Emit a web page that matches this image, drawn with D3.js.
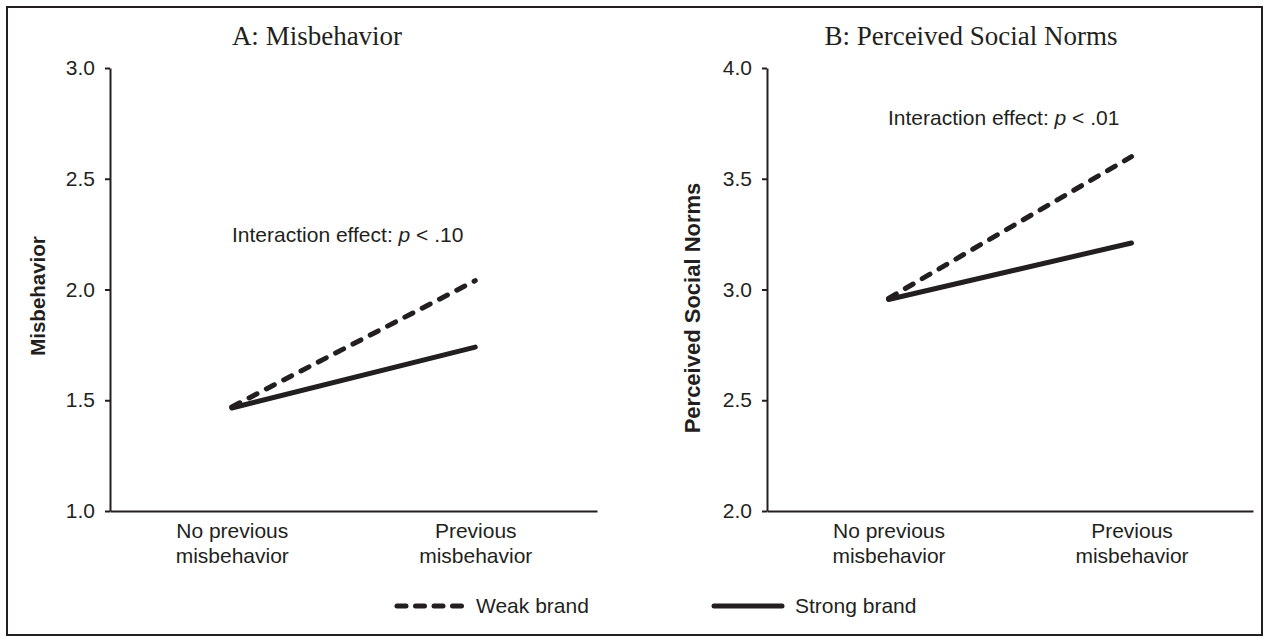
<!DOCTYPE html>
<html>
<head>
<meta charset="utf-8">
<script src="https://cdn.jsdelivr.net/npm/d3@7"></script>
<style>
  html, body { margin: 0; padding: 0; background: #fff; }
  svg { display: block; }
</style>
</head>
<body>
<svg id="chart" width="1268" height="637"></svg>
<script>
// ---- data ----
const categories = ["No previous misbehavior", "Previous misbehavior"];
const categoryLines = [["No previous", "misbehavior"], ["Previous", "misbehavior"]];
const seriesNames = ["Weak brand", "Strong brand"];

const panelATitle = "A: Misbehavior";
const panelAYLabel = "Misbehavior";
const panelANote = ".10";
const panelAWeak = [1.47, 2.04];
const panelAStrong = [1.465, 1.74];
const panelATicks = [1.0, 1.5, 2.0, 2.5, 3.0];

const panelBTitle = "B: Perceived Social Norms";
const panelBYLabel = "Perceived Social Norms";
const panelBNote = ".01";
const panelBWeak = [2.96, 3.60];
const panelBStrong = [2.955, 3.21];
const panelBTicks = [2.0, 2.5, 3.0, 3.5, 4.0];

// ---- drawing ----
const ink = "#231f20";
const sans = "Liberation Sans, Arial, sans-serif";
const serif = "Liberation Serif, Times New Roman, serif";
const svg = d3.select("#chart");

svg.append("rect")
  .attr("x", 7).attr("y", 7).attr("width", 1255).attr("height", 628)
  .attr("fill", "none").attr("stroke", ink).attr("stroke-width", 2);

function panel(cfg) {
  const x = d3.scalePoint().domain(categories).range([cfg.left, cfg.right]).padding(0.5);
  const y = d3.scaleLinear().domain([cfg.ticks[0], cfg.ticks[cfg.ticks.length - 1]]).range([511, 68]);
  const g = svg.append("g");

  // y axis
  const ya = g.append("g").attr("transform", `translate(${cfg.left},0)`)
    .call(d3.axisLeft(y).tickValues(cfg.ticks).tickFormat(d3.format(".1f")).tickSize(5).tickSizeOuter(0).tickPadding(10));
  ya.select(".domain").attr("stroke", ink).attr("stroke-width", 2);
  ya.selectAll(".tick line").attr("stroke", ink).attr("stroke-width", 2);
  ya.selectAll(".tick text").attr("font-family", sans).attr("font-size", 21).attr("fill", ink);

  // x axis
  const xa = g.append("g").attr("transform", `translate(0,511)`)
    .call(d3.axisBottom(x).tickSize(0).tickSizeOuter(0).tickFormat(""));
  xa.select(".domain").attr("stroke", ink).attr("stroke-width", 2);
  xa.selectAll(".tick").each(function(d, i) {
    const t = d3.select(this).select("text")
      .attr("font-family", sans).attr("font-size", 21).attr("fill", ink)
      .attr("text-anchor", "middle").attr("y", 0).attr("dy", null).text(null);
    categoryLines[i].forEach((s, k) => {
      t.append("tspan").attr("x", 0).attr("y", 27 + k * 25).text(s);
    });
  });

  // lines
  const line = d3.line().x((d, i) => x(categories[i])).y(d => y(d));
  g.append("path").datum(cfg.strong).attr("d", line)
    .attr("fill", "none").attr("stroke", ink).attr("stroke-width", 5).attr("stroke-linecap", "round");
  g.append("path").datum(cfg.weak).attr("d", line)
    .attr("fill", "none").attr("stroke", ink).attr("stroke-width", 5)
    .attr("stroke-linecap", "round").attr("stroke-dasharray", "9,10.5");

  // title
  g.append("text").attr("x", cfg.titleX).attr("y", 45).attr("text-anchor", "middle")
    .attr("font-family", serif).attr("font-size", 27).attr("fill", ink).text(cfg.title);

  // y label
  g.append("text").attr("transform", `translate(${cfg.ylabX},${cfg.ylabY}) rotate(-90)`)
    .attr("text-anchor", "middle").attr("font-family", sans).attr("font-weight", "bold")
    .attr("font-size", cfg.ylabSize).attr("fill", ink).text(cfg.ylab);

  // note
  const n = g.append("text").attr("x", cfg.noteX).attr("y", cfg.noteY)
    .attr("font-family", sans).attr("font-size", 21).attr("fill", ink);
  n.append("tspan").text("Interaction effect: ");
  n.append("tspan").attr("font-style", "italic").text("p");
  n.append("tspan").text(" < " + cfg.note);
}

panel({ left: 110, right: 597, ticks: panelATicks, weak: panelAWeak, strong: panelAStrong,
        title: panelATitle, titleX: 317, ylab: panelAYLabel, ylabX: 45, ylabY: 296, ylabSize: 20.5,
        note: panelANote, noteX: 232, noteY: 242 });
panel({ left: 767, right: 1253, ticks: panelBTicks, weak: panelBWeak, strong: panelBStrong,
        title: panelBTitle, titleX: 971, ylab: panelBYLabel, ylabX: 700, ylabY: 308, ylabSize: 22,
        note: panelBNote, noteX: 888, noteY: 125 });

// legend
const legend = svg.append("g");
const legendItems = [
  { name: seriesNames[0], x0: 397, x1: 462, dash: "9,9.5", tx: 476 },
  { name: seriesNames[1], x0: 714, x1: 782, dash: null, tx: 795 }
];
legendItems.forEach(it => {
  legend.append("line").attr("x1", it.x0).attr("x2", it.x1).attr("y1", 606).attr("y2", 606)
    .attr("stroke", ink).attr("stroke-width", 5).attr("stroke-linecap", "round")
    .attr("stroke-dasharray", it.dash);
  legend.append("text").attr("x", it.tx).attr("y", 613)
    .attr("font-family", sans).attr("font-size", 21).attr("fill", ink).text(it.name);
});
</script>
</body>
</html>
